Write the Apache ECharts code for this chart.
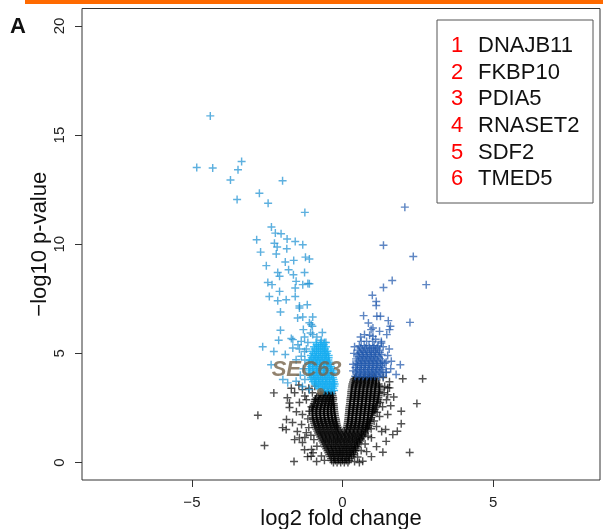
<!DOCTYPE html>
<html>
<head>
<meta charset="utf-8">
<script src="https://cdn.jsdelivr.net/npm/echarts@6/dist/echarts.min.js"></script>
<style>
  html, body { margin: 0; padding: 0; background: #fff; }
  #chart { width: 603px; height: 529px; }
</style>
</head>
<body>
<div id="chart"></div>
<script>
// Axis ticks
const xTicks = [-5, 0, 5];
const yTicks = [0, 5, 10, 15, 20];

// Highlighted genes (numbered in legend order) and their positions
const geneNames = ['DNAJB11', 'FKBP10', 'PDIA5', 'RNASET2', 'SDF2', 'TMED5'];
const genePoints = [[-0.07, 0.0], [-0.1, 0.46], [-0.33, 2.33], [-1.0, 3.25], [-0.43, 1.6], [-0.47, 1.14]];
const sec63Point = [-0.73, 3.25];

// Non-significant proteins: dense core listed by row [y, [x...]]
const blackRows = [
  [0.0, [-0.3, -0.18, -0.06, 0.06, 0.18]],
  [0.09, [-0.36, -0.24, -0.12, 0.0, 0.12, 0.22]],
  [0.18, [-0.38, -0.26, -0.13, 0.0, 0.12, 0.24]],
  [0.27, [-0.41, -0.29, -0.16, -0.04, 0.08, 0.2, 0.31]],
  [0.36, [-0.44, -0.31, -0.19, -0.07, 0.05, 0.17, 0.29, 0.36]],
  [0.45, [-0.47, -0.34, -0.22, -0.1, 0.02, 0.14, 0.26, 0.38]],
  [0.54, [-0.5, -0.37, -0.25, -0.12, 0.0, 0.12, 0.24, 0.36, 0.42]],
  [0.63, [-0.54, -0.41, -0.29, -0.16, -0.04, 0.09, 0.21, 0.33, 0.44]],
  [0.72, [-0.58, -0.45, -0.32, -0.2, -0.07, 0.06, 0.18, 0.3, 0.42, 0.48]],
  [0.81, [-0.61, -0.48, -0.36, -0.23, -0.1, 0.03, 0.15, 0.28, 0.4, 0.51]],
  [0.9, [-0.64, -0.51, -0.38, -0.25, -0.13, 0.0, 0.13, 0.25, 0.38, 0.5, 0.55]],
  [0.99, [-0.67, -0.55, -0.42, -0.29, -0.17, -0.04, 0.09, 0.22, 0.34, 0.47, 0.58]],
  [1.08, [-0.7, -0.57, -0.44, -0.31, -0.18, -0.06, 0.07, 0.2, 0.33, 0.45, 0.58, 0.62]],
  [1.17, [-0.74, -0.61, -0.48, -0.35, -0.22, -0.1, 0.04, 0.17, 0.3, 0.42, 0.55, 0.66]],
  [1.26, [-0.78, -0.65, -0.52, -0.39, -0.26, -0.13, 0.0, 0.13, 0.26, 0.39, 0.52, 0.64, 0.7]],
  [1.35, [-0.81, -0.68, -0.55, -0.42, -0.29, -0.16, -0.03, 0.1, 0.23, 0.36, 0.49, 0.62, 0.74]],
  [1.44, [-0.84, -0.71, -0.58, -0.45, -0.32, -0.19, -0.07, 0.06, 0.19, 0.32, 0.45, 0.58, 0.7, 0.77]],
  [1.53, [-0.87, -0.74, -0.61, -0.48, -0.35, -0.22, -0.12, 0.12, 0.24, 0.37, 0.5, 0.63, 0.76, 0.82]],
  [1.62, [-0.9, -0.77, -0.64, -0.51, -0.38, -0.25, -0.16, 0.14, 0.27, 0.4, 0.53, 0.66, 0.78, 0.84]],
  [1.71, [-0.92, -0.79, -0.66, -0.53, -0.4, -0.27, -0.18, 0.16, 0.28, 0.41, 0.54, 0.67, 0.8, 0.87]],
  [1.8, [-0.94, -0.81, -0.68, -0.55, -0.42, -0.3, -0.2, 0.17, 0.3, 0.43, 0.56, 0.69, 0.82, 0.89]],
  [1.89, [-0.96, -0.83, -0.7, -0.57, -0.44, -0.32, -0.21, 0.18, 0.31, 0.44, 0.57, 0.7, 0.83, 0.91]],
  [1.98, [-0.98, -0.85, -0.72, -0.59, -0.46, -0.34, -0.22, 0.19, 0.32, 0.45, 0.58, 0.71, 0.84, 0.93]],
  [2.07, [-0.99, -0.86, -0.73, -0.6, -0.47, -0.35, -0.24, 0.2, 0.32, 0.45, 0.58, 0.71, 0.84, 0.96]],
  [2.16, [-1.0, -0.87, -0.74, -0.61, -0.48, -0.36, -0.25, 0.2, 0.33, 0.46, 0.59, 0.72, 0.85, 0.98]],
  [2.25, [-1.0, -0.87, -0.74, -0.61, -0.49, -0.37, -0.26, 0.21, 0.34, 0.47, 0.6, 0.73, 0.86, 0.99]],
  [2.34, [-1.0, -0.88, -0.75, -0.62, -0.5, -0.38, -0.27, 0.22, 0.35, 0.48, 0.61, 0.74, 0.87, 1.0, 1.04]],
  [2.43, [-0.99, -0.86, -0.73, -0.61, -0.49, -0.37, -0.28, 0.22, 0.35, 0.48, 0.61, 0.74, 0.87, 1.0, 1.07]],
  [2.52, [-0.99, -0.86, -0.73, -0.6, -0.48, -0.37, -0.28, 0.23, 0.36, 0.49, 0.62, 0.75, 0.88, 1.01, 1.1]],
  [2.61, [-0.97, -0.84, -0.71, -0.59, -0.47, -0.37, -0.29, 0.24, 0.37, 0.5, 0.63, 0.76, 0.89, 1.02, 1.12]],
  [2.7, [-0.95, -0.82, -0.69, -0.57, -0.45, -0.36, -0.29, 0.25, 0.38, 0.51, 0.64, 0.77, 0.9, 1.03, 1.15]],
  [2.79, [-0.92, -0.8, -0.67, -0.55, -0.44, -0.33, 0.26, 0.39, 0.52, 0.65, 0.78, 0.91, 1.04, 1.16]],
  [2.88, [-0.9, -0.77, -0.64, -0.52, -0.41, -0.31, 0.26, 0.39, 0.52, 0.65, 0.78, 0.91, 1.04, 1.18]],
  [2.97, [-0.86, -0.73, -0.61, -0.49, -0.38, -0.31, 0.27, 0.4, 0.53, 0.66, 0.79, 0.92, 1.05, 1.19]],
  [3.06, [-0.8, -0.68, -0.56, -0.45, -0.33, 0.28, 0.41, 0.54, 0.67, 0.8, 0.93, 1.06, 1.2]],
  [3.15, [-0.74, -0.62, -0.5, -0.4, -0.34, 0.29, 0.42, 0.55, 0.68, 0.81, 0.94, 1.07, 1.21]],
  [3.24, [-0.6, -0.48, -0.36, 0.29, 0.42, 0.55, 0.68, 0.81, 0.94, 1.07, 1.22]],
  [3.33, [0.3, 0.43, 0.56, 0.69, 0.82, 0.95, 1.08, 1.23]],
  [3.42, [0.31, 0.44, 0.57, 0.7, 0.83, 0.96, 1.09, 1.24]],
  [3.51, [0.32, 0.45, 0.58, 0.71, 0.84, 0.97, 1.1, 1.22]],
  [3.6, [0.33, 0.46, 0.59, 0.72, 0.85, 0.98, 1.11, 1.2]],
  [3.69, [0.35, 0.48, 0.61, 0.74, 0.87, 1.0, 1.12]],
  [3.78, [0.37, 0.5, 0.63, 0.76, 0.89, 1.02, 1.13]],
  [3.85, [0.4, 0.55, 0.7, 0.85, 1.0, 1.1]],
  [3.92, [0.45, 0.6, 0.75, 0.9, 1.05]]
];

// Non-significant proteins: scattered edge points and outliers
const blackScatter = [
  [-1.83, 2.97], [-1.59, 3.2], [-1.43, 2.75], [-1.76, 2.52], [-1.53, 2.33], [-1.33, 2.2],
  [-1.86, 1.97], [-1.66, 1.83], [-1.36, 1.74], [-1.99, 1.6], [-1.5, 1.42], [-1.2, 1.37],
  [-1.59, 1.05], [-1.33, 0.92], [-1.03, 0.6], [-1.16, 0.27], [-0.86, 0.05], [-1.61, 0.05],
  [-1.2, 2.88], [-1.03, 2.56], [-1.0, 3.2], [-1.33, 3.34], [-1.15, 2.0], [-1.12, 1.6],
  [-0.95, 1.05], [-0.85, 0.75], [-0.7, 0.3], [-0.6, 0.1], [-1.25, 3.05], [-1.12, 3.4],
  [-0.92, 3.5], [-1.45, 3.55], [-1.7, 3.4], [-1.05, 1.25], [-0.98, 0.45], [-1.25, 1.15],
  [-0.9, 2.9], [-1.1, 2.35],
  [1.56, 3.7], [1.4, 3.48], [1.5, 3.11], [1.46, 2.88], [1.33, 2.56], [1.23, 2.11],
  [1.13, 1.65], [1.3, 1.42], [0.96, 1.14], [1.13, 0.73], [0.8, 0.5], [0.96, 0.27],
  [0.56, 0.0], [1.35, 3.9], [1.38, 3.2], [1.25, 2.75], [1.15, 2.3], [1.05, 1.9],
  [0.95, 1.55], [0.85, 1.2], [0.75, 0.85], [0.62, 0.55], [0.5, 0.25], [0.4, 0.05],
  [1.6, 2.6], [1.7, 3.0],
  [-2.28, 3.19], [-2.81, 2.17], [-2.59, 0.78], [-1.76, 2.73], [-1.87, 1.51], [-1.43, 1.13],
  [-1.26, 0.59], [-1.04, 0.29], [1.56, 3.42], [2.47, 2.7], [1.95, 2.35], [1.5, 2.2],
  [1.95, 1.78], [1.82, 1.43], [1.67, 1.28], [1.43, 1.51], [2.23, 0.46], [1.34, 0.47],
  [1.45, 0.97], [0.67, 0.06], [2.66, 3.84], [2.0, 3.84], [1.5, 3.43]
];

// Down-regulated, significant
const lightBlue = [
  [-4.39, 15.88], [-4.84, 13.52], [-4.31, 13.49], [-3.35, 13.79], [-3.47, 13.41], [-3.72, 12.94],
  [-1.99, 12.91], [-2.76, 12.34], [-3.5, 12.05], [-2.47, 11.88], [-1.25, 11.46], [-2.36, 10.79],
  [-2.23, 10.51], [-2.04, 10.48], [-1.84, 10.24], [-1.57, 10.13], [-1.32, 9.98], [-2.85, 10.21],
  [-2.26, 10.05], [-2.17, 9.87], [-1.85, 9.79], [-2.72, 9.64], [-2.2, 9.55], [-1.23, 9.41],
  [-1.1, 9.32], [-2.53, 9.02], [-1.9, 9.19], [-1.62, 9.26], [-2.15, 8.71], [-1.79, 8.83],
  [-1.26, 8.71], [-1.63, 8.6], [-2.09, 8.53], [-1.54, 8.3], [-2.48, 8.25], [-2.34, 8.15],
  [-1.1, 8.19], [-1.32, 8.15], [-1.57, 8.0], [-2.09, 7.84], [-2.43, 7.61], [-2.15, 7.41],
  [-1.87, 7.46], [-1.57, 7.61], [-1.43, 7.08], [-1.17, 7.23], [-2.06, 6.9], [-1.49, 6.62],
  [-1.32, 6.67], [-0.99, 6.67], [-1.04, 6.32], [-2.06, 6.06], [-1.3, 6.09], [-0.67, 5.96],
  [-2.12, 5.6], [-1.65, 5.63], [-1.26, 5.75], [-0.99, 5.86], [-2.65, 5.3], [-2.28, 5.09],
  [-1.7, 5.68], [-1.48, 5.4], [-1.37, 5.55], [-1.06, 5.93], [-1.65, 5.25], [-1.43, 5.2],
  [-1.26, 5.09], [-2.37, 4.48], [-1.98, 3.8], [-1.82, 3.65], [-1.54, 3.72], [-1.33, 3.48],
  [-1.1, 3.34], [-1.9, 4.95], [-1.54, 4.71], [-1.37, 4.87], [-1.1, 6.4], [-1.0, 6.24],
  [-0.85, 5.75], [-0.7, 5.6], [-1.15, 5.5], [-1.2, 5.2], [-0.55, 5.5], [-1.25, 4.7],
  [-1.3, 4.3], [-1.4, 4.0], [-1.25, 3.8], [-1.15, 8.2], [-1.43, 7.17]
];

// Down-regulated, significant: dense cluster next to the black core, by row [y, [x...]]
const cyanRows = [
  [3.3, [-0.62, -0.5, -0.38, -0.28]],
  [3.4, [-0.78, -0.66, -0.54, -0.42, -0.31]],
  [3.5, [-0.85, -0.72, -0.6, -0.48, -0.36, -0.27]],
  [3.6, [-0.92, -0.8, -0.68, -0.56, -0.44, -0.32, -0.26]],
  [3.7, [-0.98, -0.86, -0.74, -0.62, -0.5, -0.38, -0.28]],
  [3.8, [-1.02, -0.9, -0.78, -0.66, -0.54, -0.42, -0.3]],
  [3.9, [-1.05, -0.92, -0.8, -0.68, -0.56, -0.44, -0.32]],
  [4.0, [-1.08, -0.96, -0.84, -0.72, -0.6, -0.48, -0.36]],
  [4.1, [-1.1, -0.97, -0.85, -0.73, -0.61, -0.49, -0.37, -0.3]],
  [4.2, [-1.12, -1.0, -0.88, -0.76, -0.64, -0.52, -0.4, -0.32]],
  [4.3, [-1.1, -0.98, -0.86, -0.74, -0.62, -0.5, -0.38]],
  [4.4, [-1.06, -0.94, -0.82, -0.7, -0.58, -0.46, -0.38]],
  [4.5, [-1.12, -1.0, -0.88, -0.76, -0.64, -0.52, -0.42]],
  [4.6, [-1.1, -0.98, -0.86, -0.74, -0.62, -0.5, -0.44]],
  [4.7, [-1.08, -0.95, -0.83, -0.71, -0.59, -0.47]],
  [4.8, [-1.02, -0.9, -0.78, -0.66, -0.54, -0.46]],
  [4.9, [-1.05, -0.92, -0.8, -0.68, -0.56, -0.46]],
  [5.0, [-0.98, -0.86, -0.74, -0.62, -0.52]],
  [5.1, [-1.0, -0.86, -0.73, -0.6, -0.5]],
  [5.2, [-0.92, -0.8, -0.68, -0.58]],
  [5.3, [-0.95, -0.8, -0.66, -0.55]],
  [5.4, [-0.86, -0.74, -0.62]],
  [5.5, [-0.88, -0.72, -0.6]]
];

// Up-regulated, significant
const darkBlue = [
  [2.07, 11.7], [1.36, 9.95], [2.35, 9.44], [1.65, 8.34], [1.36, 8.02], [2.78, 8.15],
  [0.99, 7.66], [1.12, 7.38], [1.12, 7.19], [0.7, 6.73], [1.14, 6.7], [1.26, 6.7],
  [0.86, 6.39], [1.52, 6.5], [1.59, 6.24], [2.24, 6.42], [1.01, 6.16], [1.23, 6.01],
  [0.73, 5.86], [0.9, 5.83], [1.47, 5.86], [1.29, 5.48], [1.92, 4.48], [1.62, 4.64],
  [1.78, 4.03], [1.45, 4.12], [1.56, 6.09], [0.95, 6.09], [1.01, 5.78], [1.29, 5.55],
  [0.35, 4.5], [0.38, 5.0], [0.4, 5.3], [1.5, 4.9], [1.55, 5.2], [1.6, 4.3],
  [1.45, 4.6], [0.6, 5.75], [1.1, 5.65], [1.35, 5.3], [0.35, 4.2]
];

// Up-regulated, significant: dense cluster, by row [y, [x...]]
const darkBlueRows = [
  [3.95, [0.42, 0.55, 0.68, 0.81, 0.94, 1.07, 1.2, 1.35]],
  [4.05, [0.48, 0.61, 0.74, 0.87, 1.0, 1.13, 1.27]],
  [4.15, [0.45, 0.58, 0.71, 0.84, 0.97, 1.1, 1.23, 1.45]],
  [4.25, [0.5, 0.63, 0.76, 0.89, 1.02, 1.15, 1.3]],
  [4.35, [0.43, 0.56, 0.69, 0.82, 0.95, 1.08, 1.21, 1.34]],
  [4.45, [0.49, 0.62, 0.75, 0.88, 1.01, 1.14, 1.28]],
  [4.55, [0.48, 0.61, 0.74, 0.87, 1.0, 1.13, 1.26, 1.4]],
  [4.65, [0.52, 0.65, 0.78, 0.91, 1.04, 1.17, 1.32]],
  [4.75, [0.45, 0.58, 0.71, 0.84, 0.97, 1.1, 1.25]],
  [4.85, [0.54, 0.67, 0.8, 0.93, 1.06, 1.2]],
  [4.95, [0.5, 0.63, 0.76, 0.89, 1.02, 1.15, 1.3]],
  [5.05, [0.57, 0.7, 0.83, 0.96, 1.09, 1.24]],
  [5.15, [0.52, 0.66, 0.8, 0.95, 1.1, 1.22]],
  [5.25, [0.6, 0.75, 0.9, 1.02, 1.15]],
  [5.35, [0.56, 0.72, 0.88, 1.05, 1.18]],
  [5.55, [0.62, 0.8, 1.0]]
];

const fromRows = rows => rows.flatMap(([y, xs]) => xs.map(x => [x, y]));
const cross = 'path://M4.1,0H5.9V4.1H10V5.9H5.9V10H4.1V5.9H0V4.1H4.1Z';
const font = '"Liberation Sans", Arial, Helvetica, sans-serif';
const minus = v => String(v).replace('-', '\u2212');

const chart = echarts.init(document.getElementById('chart'), null, { renderer: 'canvas' });

function crossSeries(data, color) {
  return {
    type: 'scatter', data, symbol: cross, symbolSize: 8, silent: true,
    itemStyle: { color }, emphasis: { disabled: true }
  };
}

chart.setOption({
  animation: false,
  backgroundColor: '#fff',
  grid: {
    left: 82, right: 3, top: 8.5, bottom: 49, containLabel: false, outerBoundsMode: 'none',
    show: true, borderColor: '#333', borderWidth: 1, backgroundColor: 'transparent'
  },
  xAxis: {
    type: 'value', min: -8.65, max: 8.55,
    splitLine: { show: false },
    axisLine: { show: false, onZero: false },
    axisTick: { show: true, customValues: xTicks, length: 7, lineStyle: { color: '#333' } },
    axisLabel: { customValues: xTicks, formatter: minus, margin: 15, fontSize: 15, color: '#222', fontFamily: font },
    name: 'log2 fold change', nameLocation: 'middle', nameGap: 28, nameMoveOverlap: false,
    nameTextStyle: { fontSize: 22, color: '#111', fontFamily: font }
  },
  yAxis: {
    type: 'value', min: -0.8, max: 20.8,
    splitLine: { show: false },
    axisLine: { show: false, onZero: false },
    axisTick: { show: true, customValues: yTicks, length: 7, lineStyle: { color: '#333' } },
    axisLabel: { customValues: yTicks, rotate: 90, margin: 15, fontSize: 15, color: '#222', fontFamily: font },
    name: '\u2212log10 p-value', nameLocation: 'middle', nameGap: 31, nameRotate: 90, nameMoveOverlap: false,
    nameTextStyle: { fontSize: 22, color: '#111', fontFamily: font }
  },
  series: [
    crossSeries(fromRows(blackRows).concat(blackScatter), 'rgba(0,0,0,0.85)'),
    crossSeries(lightBlue, 'rgba(30,145,210,0.9)'),
    crossSeries(fromRows(cyanRows), 'rgb(22,172,240)'),
    crossSeries(darkBlue.concat(fromRows(darkBlueRows)), 'rgba(32,88,172,0.9)'),
    {
      type: 'scatter', silent: true, symbol: 'circle', symbolSize: 7,
      itemStyle: { color: '#75634A' },
      data: [{ value: sec63Point, name: 'SEC63' }],
      label: {
        show: true, formatter: '{b}', position: 'inside', offset: [-14, -22],
        fontSize: 22, fontWeight: 'bold', fontStyle: 'italic', color: '#75634A', fontFamily: font
      }
    },
    {
      type: 'scatter', silent: true, symbol: 'circle', symbolSize: 1,
      itemStyle: { opacity: 0 },
      data: genePoints.map((p, i) => ({ value: p, name: String(i + 1) })),
      label: { show: true, formatter: '{b}', position: 'inside', fontSize: 22, color: '#FF0000', fontFamily: font }
    }
  ],
  graphic: [
    { type: 'rect', shape: { x: 25, y: 0, width: 578, height: 4 }, style: { fill: '#FF6A00' } },
    { type: 'text', x: 10, y: 16, style: { text: 'A', font: 'bold 22px ' + font, fill: '#111' } },
    { type: 'rect', shape: { x: 437, y: 20, width: 156, height: 183 }, style: { fill: '#fff', stroke: '#555', lineWidth: 1 }, z: 10 },
    ...geneNames.flatMap((g, i) => [
      { type: 'text', x: 457, y: 45.8 + i * 26.7, z: 11, style: { text: String(i + 1), font: '22px ' + font, fill: '#FF0000', textAlign: 'center', textVerticalAlign: 'middle' } },
      { type: 'text', x: 478, y: 45.8 + i * 26.7, z: 11, style: { text: g, font: '22px ' + font, fill: '#111', textAlign: 'left', textVerticalAlign: 'middle' } }
    ])
  ]
});
</script>
</body>
</html>
